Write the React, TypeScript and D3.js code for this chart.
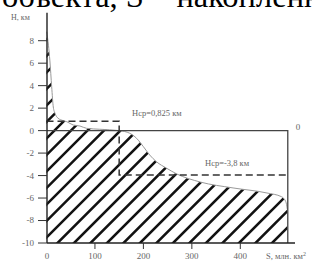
import React from "react";
import * as d3 from "d3";

// Hypsographic curve: S (million km²) vs H (km)
const S_VALUES = [0.5, 4, 7, 10.7, 14, 17.5, 24, 35, 42, 55, 69, 83, 110, 150, 172, 186, 200, 213, 227, 248, 269, 317, 385, 455, 485, 494, 497];
const H_VALUES = [8.8, 7.6, 6.2, 3.9, 2.1, 1.54, 1.1, 0.88, 0.79, 0.5, 0.41, 0.2, 0.12, 0, -0.24, -0.69, -1.43, -2.17, -2.77, -3.35, -3.86, -4.57, -5.1, -5.55, -5.88, -6.33, -7.0];
const S_MAX = 498;
const LAND_S = 150;
const MEAN_LEVELS = [0.83, -3.95];
const MEAN_LABELS = ["Нср=0,825 км", "Нср=-3,8 км"];
const Y_TICKS = [8, 6, 4, 2, 0, -2, -4, -6, -8, -10];
const X_TICKS = [0, 100, 200, 300, 400];
const TITLE = "объекта, S – накопленная";

export default function App() {
  const W = 312, H = 262;
  const x = d3.scaleLinear().domain([0, 400]).range([46.5, 240.3]);
  const y = d3.scaleLinear().domain([-10, 8]).range([243, 40.7]);
  const axisX = x(0) + 0.5;
  const pts: [number, number][] = S_VALUES.map((s, i) => [s, H_VALUES[i]]);
  const curve = d3.line<[number, number]>().x(d => x(d[0])).y(d => y(d[1])).curve(d3.curveMonotoneX)(pts) || "";
  const last = pts[pts.length - 1];
  const area = `M${x(0)},${y(-10)}L${x(0)},${y(pts[0][1])}L` + curve.slice(1) + `L${x(last[0])},${y(-10)}Z`;
  const dashed = d3.line<[number, number]>().x(d => x(d[0])).y(d => y(d[1]))([
    [0, MEAN_LEVELS[0]], [LAND_S, MEAN_LEVELS[0]], [LAND_S, MEAN_LEVELS[1]], [S_MAX, MEAN_LEVELS[1]],
  ]) || "";
  const hatch: number[] = d3.range(-20, 30).map(k => 105 + k * 16.5);
  const yb = y(-10);
  const font = "'Liberation Serif', 'Times New Roman', serif";
  return (
    <svg width={W} height={H} style={{ position: "fixed", left: 0, top: 0, background: "#fff" }} fontFamily={font}>
      <rect width={W} height={H} fill="#fff" />
      <text x={2} y={7} fontSize={32.5} fill="#000">{TITLE}</text>
      <defs>
        <clipPath id="hc"><path d={area} /></clipPath>
      </defs>
      <g clipPath="url(#hc)">
        {hatch.map((xb, i) => (
          <line key={i} x1={xb} y1={yb + 2} x2={xb + 260} y2={yb + 2 - 260} stroke="#111" strokeWidth={2.6} />
        ))}
      </g>
      <path d={curve} fill="none" stroke="#999" strokeWidth={1} />
      <path d={`M${axisX},${y(0)}H${x(S_MAX)}V${yb}`} fill="none" stroke="#444" strokeWidth={1.3} />
      <path d={dashed} fill="none" stroke="#333" strokeWidth={1.5} strokeDasharray="7,4" />
      <line x1={axisX} y1={12.7} x2={axisX} y2={yb} stroke="#222" strokeWidth={1.4} />
      <line x1={axisX} y1={yb} x2={295} y2={yb} stroke="#222" strokeWidth={1.4} />
      {Y_TICKS.map(t => (
        <g key={t}>
          <line x1={38} x2={axisX} y1={y(t)} y2={y(t)} stroke="#333" strokeWidth={1} />
          <text x={34} y={y(t)} dy="0.33em" textAnchor="end" fontSize={9} fill="#666">{t}</text>
        </g>
      ))}
      {X_TICKS.map(t => (
        <g key={t}>
          {t > 0 && <line x1={x(t)} x2={x(t)} y1={yb} y2={yb + 6} stroke="#333" strokeWidth={1} />}
          <text x={t === 0 ? axisX : x(t)} y={258.5} textAnchor="middle" fontSize={9} fill="#666">{t}</text>
        </g>
      ))}
      <text x={11} y={19.5} fontSize={8} fill="#666">H, км</text>
      <text x={266} y={258.5} fontSize={8.5} fill="#666">S, млн. км<tspan dy={-3} fontSize={6}>2</tspan></text>
      <text x={298} y={130} fontSize={9} fill="#666" textAnchor="middle">0</text>
      <text x={132} y={116} fontSize={8.5} fill="#666">{MEAN_LABELS[0]}</text>
      <text x={205} y={166} fontSize={8.5} fill="#666">{MEAN_LABELS[1]}</text>
    </svg>
  );
}
